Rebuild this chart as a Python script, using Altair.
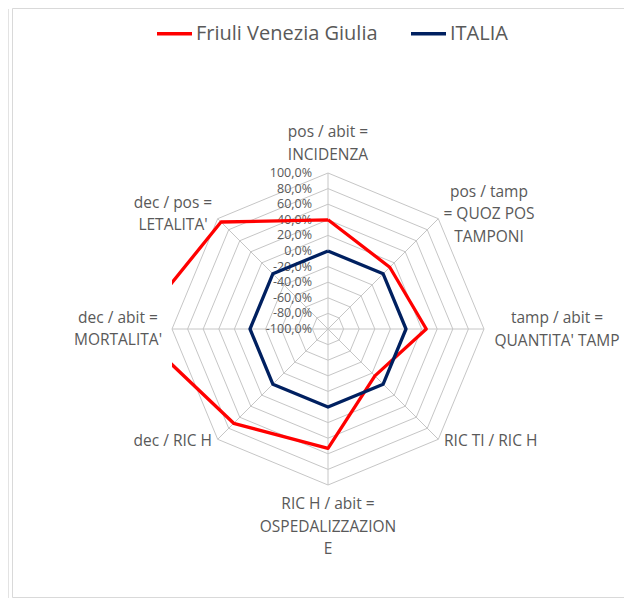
import math
import altair as alt
import pandas as pd

# ---------------- data ----------------
CATEGORIES = [
    ["pos / abit =", "INCIDENZA"],
    ["pos / tamp", "= QUOZ POS", "TAMPONI"],
    ["tamp / abit =", "QUANTITA' TAMP"],
    ["RIC TI / RIC H"],
    ["RIC H / abit =", "OSPEDALIZZAZION", "E"],
    ["dec  / RIC H"],
    ["dec / abit =", "MORTALITA'"],
    ["dec / pos =", "LETALITA'"],
]
SERIES = ["Friuli Venezia Giulia", "ITALIA"]
FVG = [40.0, 12.0, 26.0, -15.0, 53.0, 71.0, 148.0, 94.0]
ITALIA = [0.0, 0.0, 0.0, 0.0, 0.0, 0.0, 0.0, 0.0]
TICKS = [-100, -80, -60, -40, -20, 0, 20, 40, 60, 80, 100]
COLORS = ["#FF0000", "#002060"]

# ---------------- layout ----------------
R_PX = 156            # outer ring radius in pixels
SIDE = 2 * R_PX       # plot area = square around the radar
K = R_PX / 200.0      # pixels per radial unit (value + 100)
PAD = {"left": 164, "top": 165, "right": 140, "bottom": 113}
LH = 22.5             # label line height
# label block centres (pixel offsets from centre, y down) and alignment
LABEL_POS = [(0, -185.5, "center"), (161, -115, "center"), (229, 0.5, "center"),
             (116, 112, "left"), (0, 197.7, "center"), (-116, 112, "right"),
             (-210, 0, "center"), (-155, -115, "center")]
GRID = "#C6C6C6"
TXT = "#595959"
FONT = "Open Sans"

N = len(CATEGORIES)


def polar(r, i):
    a = 2 * math.pi * i / N
    return r * math.sin(a), r * math.cos(a)


xs = alt.Scale(domain=[-200, 200])
ys = alt.Scale(domain=[-200, 200])
X = lambda f: alt.X(f, type="quantitative", scale=xs, axis=None)
Y = lambda f: alt.Y(f, type="quantitative", scale=ys, axis=None)

# rings
ring_rows = []
for t in TICKS[1:]:
    r = t + 100
    for j in range(N + 1):
        x, y = polar(r, j % N)
        ring_rows.append({"ring": t, "o": j, "x": x, "y": y})
rings = alt.Chart(pd.DataFrame(ring_rows)).mark_line(
    color=GRID, strokeWidth=1).encode(
    x=X("x"), y=Y("y"), detail="ring:N", order="o:Q")

# spokes
spoke_rows = []
for i in range(N):
    x, y = polar(200, i)
    spoke_rows.append({"x0": 0.0, "y0": 0.0, "x": x, "y": y})
spokes = alt.Chart(pd.DataFrame(spoke_rows)).mark_rule(
    color=GRID, strokeWidth=1).encode(
    x=X("x0"), y=Y("y0"), x2="x", y2="y")

# series lines
line_rows = []
for s, vals in zip(SERIES, [FVG, ITALIA]):
    for j in range(N + 1):
        x, y = polar(vals[j % N] + 100, j % N)
        line_rows.append({"serie": s, "o": j, "x": x, "y": y})
lines = alt.Chart(pd.DataFrame(line_rows)).mark_line(
    strokeWidth=3.3, strokeJoin="round", clip=True).encode(
    x=X("x"), y=Y("y"), order="o:Q",
    color=alt.Color("serie:N", scale=alt.Scale(domain=SERIES, range=COLORS),
                    legend=alt.Legend(orient="none", legendX=-17, legendY=-159,
                                      direction="horizontal", title=None,
                                      symbolType="stroke", symbolSize=1225,
                                      symbolStrokeWidth=3.3, labelFont=FONT,
                                      labelFontSize=20, labelColor=TXT,
                                      labelLimit=0, labelOffset=2,
                                      columnPadding=26, padding=0)))

# tick labels
tick_df = pd.DataFrame({
    "x": [0.0] * len(TICKS),
    "y": [t + 100 for t in TICKS],
    "lab": [f"{t:.1f}".replace(".", ",") + "%" for t in TICKS],
})
tick_labels = alt.Chart(tick_df).mark_text(
    align="right", baseline="middle", dx=-16, font=FONT, fontSize=12.5,
    color=TXT).encode(x=X("x"), y=Y("y"), text="lab:N")

# category labels (anchor = first line, block centred on LABEL_POS)
label_layers = []
for al in ["center", "left", "right"]:
    rows = []
    for cat, (dx, dy, a) in zip(CATEGORIES, LABEL_POS):
        if a == al:
            top = dy - (len(cat) - 1) * LH / 2
            rows.append({"x": dx / K, "y": -top / K, "t": cat})
    if rows:
        label_layers.append(alt.Chart(pd.DataFrame(rows)).mark_text(
            align=al, baseline="middle", font=FONT, fontSize=15.5,
            lineHeight=LH, color=TXT).encode(x=X("x"), y=Y("y"), text="t"))

# chart frame (left, top, bottom edges; right edge lies outside the picture)
one = pd.DataFrame({"a": [0]})
BOT = SIDE + PAD["bottom"] - 0.5
frame_l = alt.Chart(one).mark_rule(color="#D9D9D9", strokeWidth=1).encode(
    x=alt.value(-159.5), y=alt.value(-164.5), y2=alt.value(BOT))
frame_t = alt.Chart(one).mark_rule(color="#D9D9D9", strokeWidth=1).encode(
    x=alt.value(-159.5), x2=alt.value(SIDE + PAD["right"]), y=alt.value(-164.5))
frame_b = alt.Chart(one).mark_rule(color="#D9D9D9", strokeWidth=1).encode(
    x=alt.value(-159.5), x2=alt.value(SIDE + PAD["right"]), y=alt.value(BOT))
edge = alt.Chart(one).mark_rule(color="#E3E3E3", strokeWidth=1).encode(
    x=alt.value(-163.5), y=alt.value(-164), y2=alt.value(SIDE + PAD["bottom"]))

chart = alt.layer(frame_l, frame_t, frame_b, edge, rings, spokes, tick_labels,
                  *label_layers, lines).properties(
    width=SIDE, height=SIDE,
    autosize=alt.AutoSizeParams(type="none"),
    padding=PAD,
).configure_view(stroke=None)

chart.save("out.html", embed_options={"renderer": "svg", "actions": False})
